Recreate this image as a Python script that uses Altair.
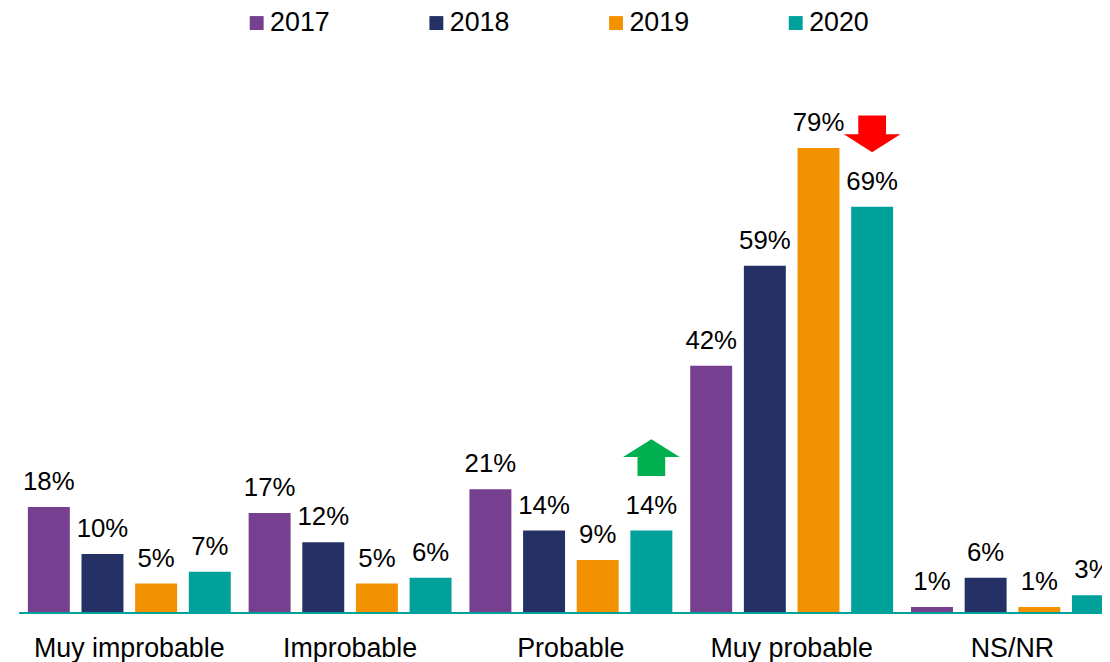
import altair as alt
import pandas as pd

categories = ["Muy improbable", "Improbable", "Probable", "Muy probable", "NS/NR"]
years = ["2017", "2018", "2019", "2020"]
v2017 = [18, 17, 21, 42, 1]
v2018 = [10, 12, 14, 59, 6]
v2019 = [5, 5, 9, 79, 1]
v2020 = [7, 6, 14, 69, 3]
colors = ["#763f8f", "#253064", "#f39200", "#00a19a"]

# arrow annotations (category, year, vertical centre in %)
up_cat, up_year, up_pos = ["Probable"], ["2020"], [26.4]
down_cat, down_year, down_pos = ["Muy probable"], ["2020"], [81.4]

rows = []
for yr, vals in zip(years, [v2017, v2018, v2019, v2020]):
    for c, v in zip(categories, vals):
        rows.append({"cat": c, "year": yr, "value": v, "label": f"{v}%"})
df = pd.DataFrame(rows)

up_df = pd.DataFrame({"cat": up_cat, "year": up_year, "pos": up_pos})
down_df = pd.DataFrame({"cat": down_cat, "year": down_year, "pos": down_pos})

UP_PATH = "M0,-0.65 L1,-0.02 L0.49,-0.02 L0.49,0.65 L-0.49,0.65 L-0.49,-0.02 L-1,-0.02 Z"
DOWN_PATH = "M-0.49,-0.65 L0.49,-0.65 L0.49,0.02 L1,0.02 L0,0.65 L-1,0.02 L-0.49,0.02 Z"

W, H = 1094, 593

x_enc = alt.X(
    "cat:N",
    sort=categories,
    scale=alt.Scale(domain=categories, paddingInner=0.081, paddingOuter=0, round=False),
    axis=alt.Axis(
        title=None, labelAngle=0, ticks=False, tickSize=0, domain=False,
        labelFontSize=27, labelColor="#000000", labelPadding=44, labelBaseline="alphabetic",
        labelFont="Liberation Sans", grid=False, labelLimit=0,
    ),
)
xo_enc = alt.XOffset("year:N", sort=years,
                     scale=alt.Scale(domain=years, paddingInner=0.218, paddingOuter=0, round=False))
y_scale = alt.Scale(domain=[0, 100], nice=False, zero=True)

bars = alt.Chart(df).mark_bar().encode(
    x=x_enc,
    xOffset=xo_enc,
    y=alt.Y("value:Q", scale=y_scale, axis=None),
    color=alt.Color("year:N", sort=years, scale=alt.Scale(domain=years, range=colors),
                    legend=alt.Legend(title=None)),
)

baseline = alt.Chart(df).mark_rule(color="#00a19a", strokeWidth=2).encode(
    x=alt.value(-8), x2=alt.value(W + 10), y=alt.Y(datum=0, scale=y_scale, axis=None)
)

texts = alt.Chart(df).mark_text(
    baseline="alphabetic", dy=-17, fontSize=26, font="Liberation Sans", color="#000000"
).encode(
    x=x_enc,
    xOffset=xo_enc,
    y=alt.Y("value:Q", scale=y_scale, axis=None),
    text="label:N",
)

up_arrow = alt.Chart(up_df).mark_point(
    shape=UP_PATH, filled=True, size=3249, opacity=1, color="#00b050", strokeWidth=0
).encode(
    x=x_enc, xOffset=xo_enc, y=alt.Y("pos:Q", scale=y_scale, axis=None)
)
down_arrow = alt.Chart(down_df).mark_point(
    shape=DOWN_PATH, filled=True, size=3249, opacity=1, color="#ff0000", strokeWidth=0
).encode(
    x=x_enc, xOffset=xo_enc, y=alt.Y("pos:Q", scale=y_scale, axis=None)
)

chart = alt.layer(bars, baseline, texts, up_arrow, down_arrow).properties(
    width=W, height=H,
    autosize=alt.AutoSizeParams(type="none"),
    padding={"left": 20, "top": 14, "right": -12, "bottom": 47},
).configure(
    font="Liberation Sans"
).configure_view(
    stroke=None
).configure_legend(
    orient="none", legendX=217, legendY=-15, direction="horizontal",
    symbolType="square", symbolSize=196, symbolStrokeWidth=0, symbolOpacity=1,
    labelFontSize=27, labelOffset=0, columnPadding=93, labelColor="#000000",
    labelFont="Liberation Sans", padding=0,
)

chart.save("out.html", embed_options={"renderer": "svg", "actions": False})
